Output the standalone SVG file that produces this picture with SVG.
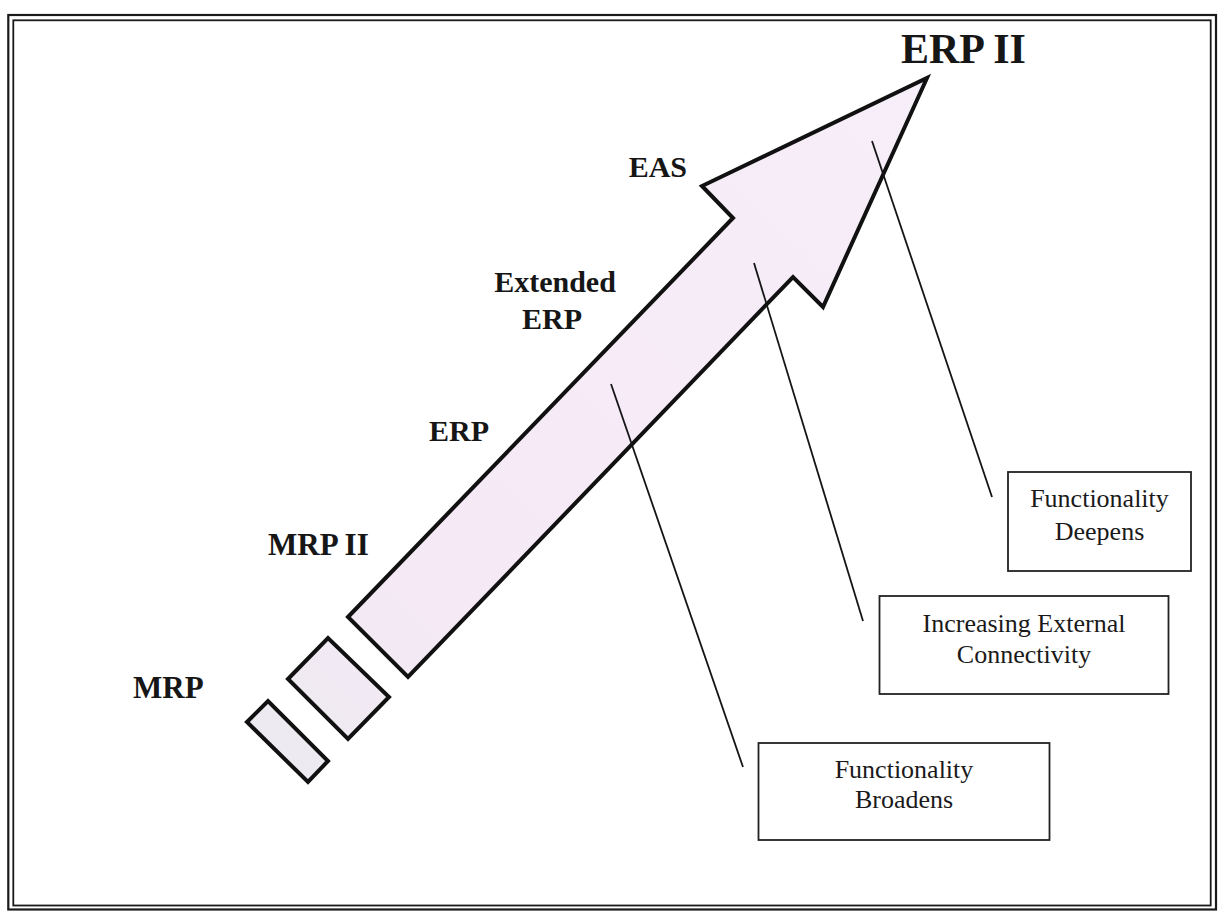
<svg xmlns="http://www.w3.org/2000/svg" width="1221" height="911" viewBox="0 0 1221 911">
  <style>
    .frame { fill: none; stroke: #1a1a1a; }
    .stage { stroke: #111; stroke-width: 4; stroke-linejoin: miter; fill: url(#lav); }
    .label { font-family: "Liberation Serif", "Times New Roman", serif; font-weight: bold; fill: #161616; }
    .box { fill: #fff; stroke: #222; stroke-width: 1.8; }
    .boxtext { font-family: "Liberation Serif", "Times New Roman", serif; font-size: 26px; fill: #1a1a1a; text-anchor: middle; }
    .lead { stroke: #151515; stroke-width: 1.8; fill: none; }
  </style>
  <defs>
    <linearGradient id="lav" gradientUnits="userSpaceOnUse" x1="250" y1="780" x2="930" y2="80">
      <stop offset="0" stop-color="#eceaf0"/>
      <stop offset="0.3" stop-color="#f6e9f6"/>
      <stop offset="1" stop-color="#f6eef8"/>
    </linearGradient>
  </defs>

  <rect width="1221" height="911" fill="#fff"/>

  <!-- double page frame -->
  <rect class="frame" x="8.3" y="15" width="1207.7" height="894.5" stroke-width="2.2"/>
  <rect class="frame" x="13.3" y="20.3" width="1197.4" height="885.2" stroke-width="1.8"/>

  <!-- evolution stages -->
  <g id="stage-mrp">
    <polygon class="stage" points="247,722 268,701 328,761 308,782"/>
  </g>
  <g id="stage-mrp2">
    <polygon class="stage" points="288,679 328,638 389,697 348,739"/>
  </g>
  <g id="stage-arrow">
    <polygon class="stage" points="348,617 733,218 702,186 927,78 823,307 793,277 408,677"/>
  </g>

  <!-- leader lines from the arrow to the callout boxes -->
  <g id="connectors">
    <line class="lead" x1="611" y1="384" x2="743" y2="767"/>
    <line class="lead" x1="754" y1="263" x2="863" y2="621"/>
    <line class="lead" x1="872" y1="141" x2="992" y2="497"/>
  </g>

  <!-- stage labels -->
  <g id="label-mrp"><text class="label" x="133" y="698" font-size="31">MRP</text></g>
  <g id="label-mrp2"><text class="label" x="268" y="555" font-size="31">MRP II</text></g>
  <g id="label-erp"><text class="label" x="429" y="441" font-size="30">ERP</text></g>
  <g id="label-extended-erp">
    <text class="label" x="555" y="292" font-size="30" text-anchor="middle">Extended</text>
    <text class="label" x="552" y="329" font-size="30" text-anchor="middle">ERP</text>
  </g>
  <g id="label-eas"><text class="label" x="687" y="177" font-size="30" text-anchor="end">EAS</text></g>
  <g id="label-erp2"><text class="label" x="901" y="63" font-size="42">ERP II</text></g>

  <!-- callout boxes -->
  <g id="box-deepens">
    <rect class="box" x="1008" y="472" width="183" height="99"/>
    <text class="boxtext" x="1099.5" y="507">Functionality</text>
    <text class="boxtext" x="1099.5" y="540">Deepens</text>
  </g>
  <g id="box-connectivity">
    <rect class="box" x="879.5" y="596" width="289" height="98"/>
    <text class="boxtext" x="1024" y="632">Increasing External</text>
    <text class="boxtext" x="1024" y="663">Connectivity</text>
  </g>
  <g id="box-broadens">
    <rect class="box" x="758.5" y="743" width="291" height="97"/>
    <text class="boxtext" x="904" y="778">Functionality</text>
    <text class="boxtext" x="904" y="808">Broadens</text>
  </g>
</svg>
